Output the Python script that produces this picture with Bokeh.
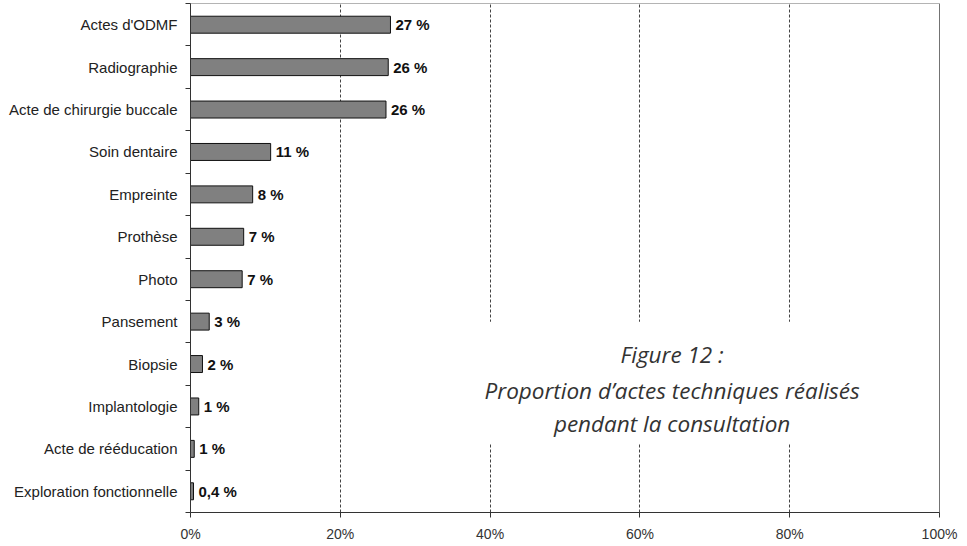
from bokeh.plotting import figure
from bokeh.models import FixedTicker, Span, BoxAnnotation, Label, ColumnDataSource
from bokeh.embed import file_html
from bokeh.resources import INLINE
from bokeh.core.properties import value

categories = ["Actes d'ODMF", "Radiographie", "Acte de chirurgie buccale", "Soin dentaire",
              "Empreinte", "Prothèse", "Photo", "Pansement", "Biopsie", "Implantologie",
              "Acte de rééducation", "Exploration fonctionnelle"]
values = [26.7, 26.4, 26.1, 10.7, 8.3, 7.1, 6.9, 2.5, 1.6, 1.1, 0.5, 0.4]
value_labels = ["27 %", "26 %", "26 %", "11 %", "8 %", "7 %", "7 %", "3 %", "2 %", "1 %", "1 %", "0,4 %"]
x_ticks = [0, 20, 40, 60, 80, 100]
x_tick_labels = ["0%", "20%", "40%", "60%", "80%", "100%"]
caption = ["Figure 12 :", "Proportion d’actes techniques réalisés", "pendant la consultation"]

n = len(categories)
ypos = [n - i - 0.5 for i in range(n)]

src = ColumnDataSource(dict(y=ypos, v=values, lab=value_labels))

p = figure(width=963, height=544, output_backend="svg", toolbar_location=None,
           x_range=(0, 100), y_range=(0, n),
           min_border_left=190, min_border_right=24, min_border_top=3, min_border_bottom=31)
p.outline_line_color = "#b4b4b4"
p.background_fill_color = "white"

# grid
p.ygrid.grid_line_color = None
p.xgrid.ticker = FixedTicker(ticks=[20, 40, 60, 80])
p.xgrid.grid_line_color = "#444444"
p.xgrid.grid_line_dash = "3 2"
p.xgrid.grid_line_width = 1
p.xgrid.level = "underlay"

# white box behind caption hiding gridlines
p.add_layout(BoxAnnotation(left=36, right=86, bottom=1.62, top=4.50,
                           fill_color="white", fill_alpha=1, line_color=None, level="glyph"))

p.add_layout(Span(location=100, dimension="height", line_color="#333333", line_width=1))

p.hbar(y="y", right="v", left=0, height=0.4, source=src,
       fill_color="#808080", line_color="#111111", line_width=1)

p.text(x="v", y="y", text="lab", source=src, x_offset=5,
       text_font=value("Liberation Sans"), text_font_style="bold", text_font_size="15px",
       text_color="#111111", text_baseline="middle", text_align="left")

# x axis
p.xaxis.ticker = FixedTicker(ticks=x_ticks)
p.xaxis.major_label_overrides = {t: l for t, l in zip(x_ticks, x_tick_labels)}
p.xaxis.major_label_text_font = "Liberation Sans"
p.xaxis.major_label_text_font_size = "14px"
p.xaxis.major_label_text_color = "#333333"
p.xaxis.major_label_standoff = 8
p.xaxis.axis_line_color = "#333333"
p.xaxis.major_tick_line_color = "#333333"
p.xaxis.major_tick_in = 0
p.xaxis.major_tick_out = 5
p.xaxis.minor_tick_line_color = None

# y axis
p.yaxis.ticker = FixedTicker(ticks=ypos, minor_ticks=list(range(n + 1)))
p.yaxis.major_label_overrides = {y: c for y, c in zip(ypos, categories)}
p.yaxis.major_label_text_font = "Liberation Sans"
p.yaxis.major_label_text_font_size = "15px"
p.yaxis.major_label_text_color = "#222222"
p.yaxis.major_tick_in = 0
p.yaxis.major_tick_out = 0
p.yaxis.major_label_standoff = 8
p.yaxis.minor_tick_in = 0
p.yaxis.minor_tick_out = 5
p.yaxis.minor_tick_line_color = "#333333"
p.yaxis.axis_line_color = "#333333"

cap_y = [3.72, 2.87, 2.09]
for t, yy in zip(caption, cap_y):
    p.add_layout(Label(x=64.3, y=yy, text=t, text_align="center", text_baseline="middle",
                       text_font="Open Sans", text_font_style="italic",
                       text_font_size="22.5px", text_color="#333333"))

open("out.html", "w").write(file_html(p, INLINE))
